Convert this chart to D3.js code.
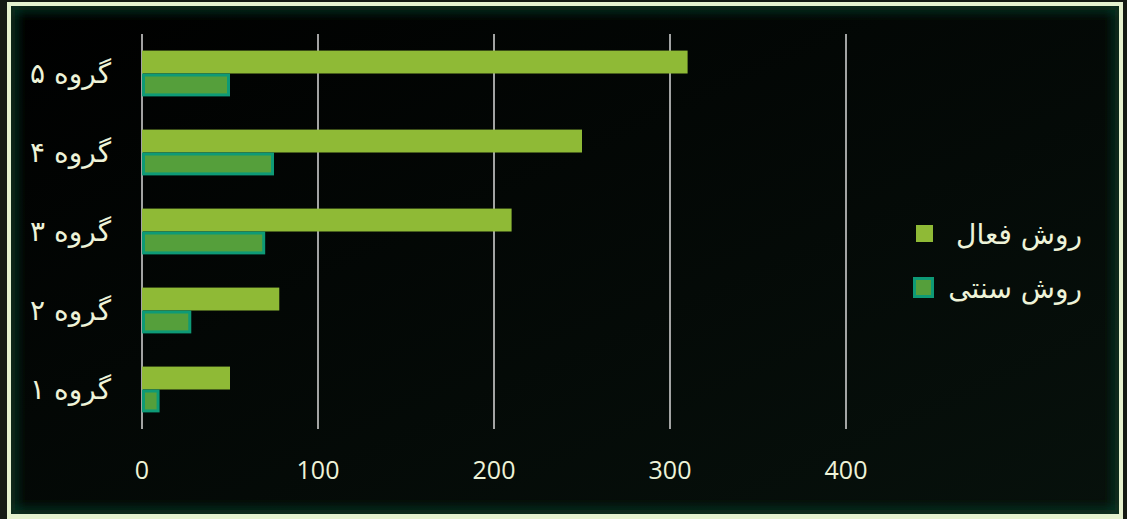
<!DOCTYPE html>
<html>
<head>
<meta charset="utf-8">
<script src="https://cdn.jsdelivr.net/npm/d3@7"></script>
<style>
  html, body { margin: 0; padding: 0; background: #151a14; }
  svg { display: block; }
</style>
</head>
<body>
<div id="chart"></div>
<script>
const categories = ["گروه ۱", "گروه ۲", "گروه ۳", "گروه ۴", "گروه ۵"];
const seriesNames = ["روش فعال", "روش سنتی"];
const activeValues = [50, 78, 210, 250, 310];
const traditionalValues = [10, 28, 70, 75, 50];
const xTicks = [0, 100, 200, 300, 400];

const width = 1127;
const height = 519;
const textColor = "#eef3d8";

const svg = d3.select("#chart")
  .append("svg")
  .attr("width", width)
  .attr("height", height);

// frame background
const defs = svg.append("defs");
const grad = defs.append("linearGradient")
  .attr("id", "bg")
  .attr("x1", 0).attr("y1", 0).attr("x2", 1).attr("y2", 1);
grad.append("stop").attr("offset", "0%").attr("stop-color", "#000000");
grad.append("stop").attr("offset", "100%").attr("stop-color", "#07110c");

const glow = defs.append("filter").attr("id", "glow")
  .attr("x", "-5%").attr("y", "-5%").attr("width", "110%").attr("height", "110%");
glow.append("feGaussianBlur").attr("stdDeviation", 6);

defs.append("clipPath").attr("id", "inner")
  .append("rect").attr("x", 11).attr("y", 6).attr("width", 1108).attr("height", 508);

svg.append("rect")
  .attr("x", 7).attr("y", 2).attr("width", 1116).attr("height", 517)
  .attr("fill", "#e6f2cf");

svg.append("rect")
  .attr("x", 11).attr("y", 6).attr("width", 1108).attr("height", 508)
  .attr("fill", "url(#bg)");

svg.append("g").attr("clip-path", "url(#inner)")
  .append("rect")
  .attr("x", 11).attr("y", 6).attr("width", 1108).attr("height", 508)
  .attr("fill", "none")
  .attr("stroke", "#0f3a26")
  .attr("stroke-width", 10)
  .attr("filter", "url(#glow)");

const x = d3.scaleLinear().domain([0, 400]).range([142, 846]);

const y = d3.scaleBand()
  .domain(categories.slice().reverse())
  .range([34, 429])
  .paddingInner(0.42)
  .paddingOuter(0.21);

const ySub = d3.scaleBand()
  .domain(seriesNames)
  .range([0, y.bandwidth()]);

// gridlines
svg.append("g")
  .selectAll("line")
  .data(xTicks)
  .join("line")
  .attr("x1", d => x(d))
  .attr("x2", d => x(d))
  .attr("y1", 34)
  .attr("y2", 429)
  .attr("stroke", "#d9d9d9")
  .attr("stroke-width", 1.5);

const rows = categories.map((c, i) => ({ cat: c, vals: [activeValues[i], traditionalValues[i]] }));

const group = svg.append("g")
  .selectAll("g")
  .data(rows)
  .join("g")
  .attr("transform", d => `translate(0,${y(d.cat)})`);

group.append("rect")
  .attr("x", x(0))
  .attr("y", ySub(seriesNames[0]))
  .attr("width", d => x(d.vals[0]) - x(0))
  .attr("height", ySub.bandwidth())
  .attr("fill", "#8fba36");

group.append("rect")
  .attr("x", x(0) + 1.5)
  .attr("y", ySub(seriesNames[1]) + 1.5)
  .attr("width", d => x(d.vals[1]) - x(0) - 3)
  .attr("height", ySub.bandwidth() - 3)
  .attr("fill", "#559f3b")
  .attr("stroke", "#0e9a76")
  .attr("stroke-width", 3);

// category labels (rtl: "start" anchors the right edge)
svg.append("g")
  .selectAll("text")
  .data(categories)
  .join("text")
  .attr("x", 111)
  .attr("y", d => y(d) + y.bandwidth() / 2)
  .attr("dy", "0.35em")
  .attr("text-anchor", "start")
  .attr("direction", "rtl")
  .attr("fill", textColor)
  .attr("font-family", "DejaVu Sans, sans-serif")
  .attr("font-size", 28)
  .text(d => d);

// x axis labels
svg.append("g")
  .selectAll("text")
  .data(xTicks)
  .join("text")
  .attr("x", d => x(d))
  .attr("y", 470)
  .attr("dy", "0.35em")
  .attr("text-anchor", "middle")
  .attr("fill", textColor)
  .attr("font-family", "Open Sans, sans-serif")
  .attr("font-size", 25)
  .text(d => d);

// legend
const legend = svg.append("g");
legend.append("rect")
  .attr("x", 916).attr("y", 225).attr("width", 17).attr("height", 17)
  .attr("fill", "#8fba36");
legend.append("rect")
  .attr("x", 914.5).attr("y", 278.5).attr("width", 18).attr("height", 18)
  .attr("fill", "#559f3b")
  .attr("stroke", "#0e9a76")
  .attr("stroke-width", 3);
legend.selectAll("text")
  .data(seriesNames)
  .join("text")
  .attr("x", 1082)
  .attr("y", (d, i) => 234 + i * 54)
  .attr("dy", "0.35em")
  .attr("text-anchor", "start")
  .attr("direction", "rtl")
  .attr("fill", textColor)
  .attr("font-family", "DejaVu Sans, sans-serif")
  .attr("font-size", 28)
  .text(d => d);
</script>
</body>
</html>
